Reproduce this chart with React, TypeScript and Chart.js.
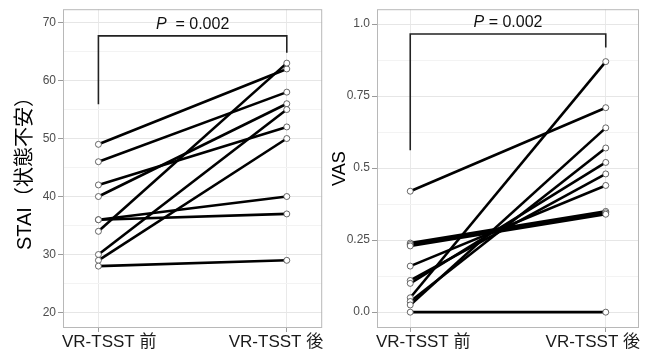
import React, { useEffect, useRef } from "react";
import { Chart, registerables } from "chart.js";
Chart.register(...registerables);

const categories = ["VR-TSST 前", "VR-TSST 後"];

const staiPre = [49, 46, 42, 40, 36, 36, 34, 30, 29, 28];
const staiPost = [62, 58, 52, 56, 40, 37, 63, 55, 50, 29];
const staiMajorTicks = [20, 30, 40, 50, 60, 70];
const staiMinorTicks = [25, 35, 45, 55, 65];
const staiBracket = [55.9, 67.7, 67.7, 64.8];

const vasPre = [0.42, 0.24, 0.235, 0.23, 0.16, 0.11, 0.1, 0.05, 0.037, 0.025, 0.0];
const vasPost = [0.71, 0.35, 0.345, 0.34, 0.44, 0.48, 0.52, 0.87, 0.57, 0.64, 0.0];
const vasMajorTicks = [0, 0.25, 0.5, 0.75, 1.0];
const vasMinorTicks = [0.125, 0.375, 0.625, 0.875];
const vasBracket = [0.562, 0.966, 0.966, 0.919];

const bracketX = [0, 0, 1, 1];
const pValue = "0.002";

const FONT = '"Liberation Sans", Arial, "Noto Sans CJK JP", sans-serif';

type PanelProps = {
  pre: number[];
  post: number[];
  major: number[];
  minor: number[];
  bracket: number[];
  yMin: number;
  yMax: number;
  xMin: number;
  xMax: number;
  title: string;
  titleSize: number;
  titlePad: number;
  yWidth: number;
  padRight: number;
  fmt: (v: number) => string;
  pGap: string;
  left: number;
};

function Panel(p: PanelProps) {
  const ref = useRef<HTMLCanvasElement | null>(null);
  useEffect(() => {
    if (!ref.current) return;
    const lines = p.pre.map((v, i) => ({
      type: "scatter" as const,
      data: [
        { x: 0, y: v },
        { x: 1, y: p.post[i] },
      ],
      showLine: true,
      borderColor: "#000",
      borderWidth: 2.6,
      pointRadius: 0,
      order: 2,
    }));
    const pts = {
      type: "scatter" as const,
      data: [
        ...p.pre.map((v) => ({ x: 0, y: v })),
        ...p.post.map((v) => ({ x: 1, y: v })),
      ],
      showLine: false,
      pointRadius: 3,
      pointBackgroundColor: "#fff",
      pointBorderColor: "#444",
      pointBorderWidth: 0.8,
      order: 0,
    };
    const bracket = {
      type: "scatter" as const,
      data: p.bracket.map((v, i) => ({ x: bracketX[i], y: v })),
      showLine: true,
      borderColor: "#222",
      borderWidth: 1.6,
      pointRadius: 0,
      order: 1,
    };
    const allTicks = [...p.major, ...p.minor].sort((a, b) => a - b);
    const isMajor = (v: number) => p.major.some((m) => Math.abs(m - v) < 1e-9);

    const overlay = {
      id: "overlay",
      beforeDatasetsDraw(chart: any) {
        const { ctx, chartArea: a } = chart;
        ctx.save();
        ctx.strokeStyle = "#b8b8b8";
        ctx.lineWidth = 1;
        ctx.strokeRect(a.left + 0.5, a.top + 0.5, a.right - a.left - 1, a.bottom - a.top - 1);
        ctx.restore();
      },
      afterDraw(chart: any) {
        const { ctx, chartArea: a, scales } = chart;
        ctx.save();
        ctx.fillStyle = "#1a1a1a";
        ctx.font = `17px ${FONT}`;
        ctx.textBaseline = "middle";
        const ly = a.bottom + 14;
        ctx.textAlign = "left";
        ctx.fillText(categories[0], a.left - 1, ly);
        ctx.textAlign = "right";
        ctx.fillText(categories[1], a.right + 1, ly);
        const cx = scales.x.getPixelForValue(0.5);
        const ty = scales.y.getPixelForValue(p.bracket[1]) - 11;
        const italic = `italic 16px ${FONT}`;
        const normal = `16px ${FONT}`;
        ctx.font = italic;
        const w1 = ctx.measureText("P").width;
        ctx.font = normal;
        const rest = `${p.pGap}= ${pValue}`;
        const w2 = ctx.measureText(rest).width;
        const x0 = cx - (w1 + w2) / 2;
        ctx.fillStyle = "#111";
        ctx.textAlign = "left";
        ctx.font = italic;
        ctx.fillText("P", x0, ty);
        ctx.font = normal;
        ctx.fillText(rest, x0 + w1, ty);
        ctx.restore();
      },
    };

    const chart = new Chart(ref.current, {
      type: "scatter",
      data: { datasets: [...lines, bracket, pts] as any },
      options: {
        animation: false,
        responsive: false,
        devicePixelRatio: 1,
        layout: { padding: { top: 8, right: p.padRight, left: 0, bottom: 0 } },
        plugins: { legend: { display: false }, tooltip: { enabled: false } },
        scales: {
          x: {
            type: "linear",
            min: p.xMin,
            max: p.xMax,
            afterBuildTicks: (s: any) => {
              s.ticks = categories.map((_, i) => ({ value: i }));
            },
            afterFit: (s: any) => {
              s.height = 30;
            },
            ticks: { display: false },
            border: { display: false },
            grid: {
              color: "#e9e9e9",
              lineWidth: 1,
              tickColor: "#9a9a9a",
              tickLength: 4,
              drawTicks: true,
            },
          },
          y: {
            type: "linear",
            min: p.yMin,
            max: p.yMax,
            afterBuildTicks: (s: any) => {
              s.ticks = allTicks.map((v) => ({ value: v }));
            },
            afterFit: (s: any) => {
              s.width = p.yWidth;
            },
            border: { display: false },
            grid: {
              color: (c: any) => (isMajor(c.tick.value) ? "#e6e6e6" : "#f3f3f3"),
              tickColor: (c: any) => (isMajor(c.tick.value) ? "#9a9a9a" : "rgba(0,0,0,0)"),
              tickLength: 5,
            },
            ticks: {
              padding: 2,
              color: "#4d4d4d",
              font: { size: 12, family: FONT },
              callback: (v: any) => (isMajor(Number(v)) ? p.fmt(Number(v)) : ""),
            },
            title: {
              display: true,
              text: p.title,
              color: "#000",
              font: { size: p.titleSize, family: FONT },
              padding: { top: p.titlePad, bottom: 0 },
            },
          },
        },
      },
      plugins: [overlay],
    });
    return () => chart.destroy();
  }, []);
  return (
    <canvas
      ref={ref}
      width={327}
      height={358}
      style={{ position: "absolute", left: p.left, top: 0, width: 327, height: 358 }}
    />
  );
}

export default function App() {
  return (
    <div style={{ position: "fixed", left: 0, top: 0, width: 654, height: 358, background: "#fff", overflow: "hidden" }}>
      <Panel
        pre={staiPre}
        post={staiPost}
        major={staiMajorTicks}
        minor={staiMinorTicks}
        bracket={staiBracket}
        yMin={17.33}
        yMax={72.3}
        xMin={-0.188}
        xMax={1.188}
        title="STAI（状態不安）"
        titleSize={20}
        titlePad={13}
        yWidth={63}
        padRight={1}
        fmt={(v) => String(v)}
        pGap="  "
        left={0}
      />
      <Panel
        pre={vasPre}
        post={vasPost}
        major={vasMajorTicks}
        minor={vasMinorTicks}
        bracket={vasBracket}
        yMin={-0.055}
        yMax={1.052}
        xMin={-0.17}
        xMax={1.17}
        title="VAS"
        titleSize={18}
        titlePad={2}
        yWidth={50}
        padRight={15}
        fmt={(v) => (v === 0 ? "0.0" : v === 1 ? "1.0" : String(v))}
        pGap=" "
        left={327}
      />
    </div>
  );
}
